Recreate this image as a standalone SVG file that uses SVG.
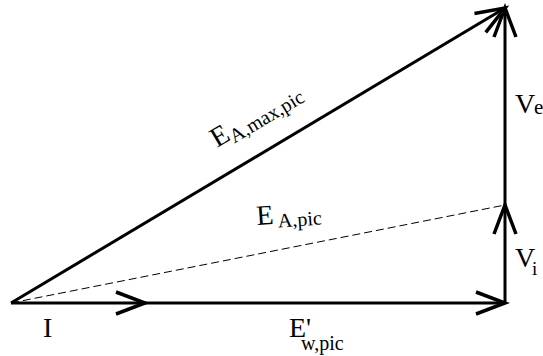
<svg xmlns="http://www.w3.org/2000/svg" width="543" height="356" viewBox="0 0 543 356">
<style>
.v{stroke:#000;stroke-width:3;fill:none;marker-end:url(#ah)}
.d{stroke:#000;stroke-width:1;fill:none;stroke-dasharray:8,4}
.t{font-family:'Times New Roman',Times,'Liberation Serif','DejaVu Serif',serif;fill:#000;font-size:28px}
.s{font-size:20px}
</style>
<defs>
<marker id="ah" markerUnits="userSpaceOnUse" markerWidth="40" markerHeight="40" refX="0" refY="0" viewBox="-35 -20 40 40" orient="auto" overflow="visible">
<path d="M-29,-11 L0,0 L-29,11" fill="none" stroke="#000" stroke-width="3.5" stroke-linejoin="miter"/>
</marker>
</defs>
<g id="connectors">
<path class="d" d="M11,303 L505,205"/>
<path class="v" d="M11,303 L145,303"/>
<path class="v" d="M145,303 L505,303"/>
<path class="v" d="M505,303 L505,205"/>
<path class="v" d="M505,205 L505,8"/>
<path class="v" d="M11,303 L505,8"/>
</g>
<g class="t">
<g id="label-I"><text x="43" y="337">I</text></g>
<g id="label-Ew"><text x="289" y="337">E'</text><text class="s" x="301" y="350">w,pic</text></g>
<g id="label-EAmax"><text transform="translate(217,148) rotate(-30.8)">E<tspan class="s" dy="5">A,max,pic</tspan></text></g>
<g id="label-EA"><text transform="translate(257,225) rotate(-4)">E<tspan class="s" dy="4" dx="4">A,pic</tspan></text></g>
<g id="label-Ve"><text x="515" y="113">V</text><text x="534" y="114" style="font-size:21px">e</text></g>
<g id="label-Vi"><text x="515" y="267">V</text><text class="s" x="532" y="275" style="font-size:19px">i</text></g>
</g>
</svg>
